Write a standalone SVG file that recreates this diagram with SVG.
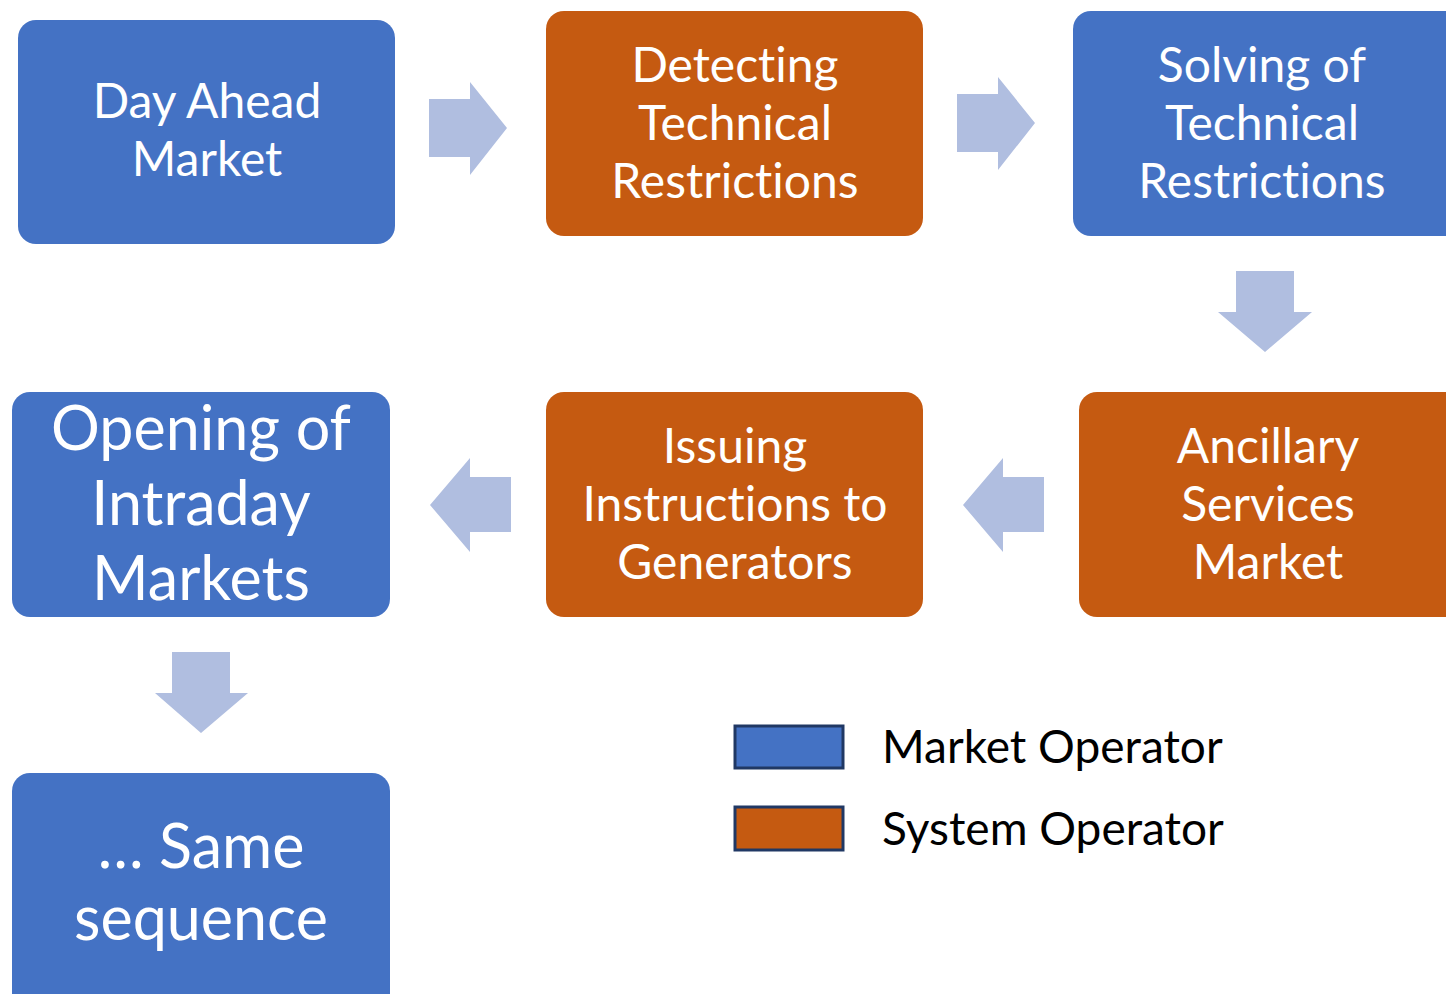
<svg xmlns="http://www.w3.org/2000/svg" width="1446" height="994" viewBox="0 0 1446 994">
<style>
.blue{fill:#4472C4}
.orange{fill:#C55A11}
.arr{fill:#B0BEE0}
text{font-variant-ligatures:none}
.t{font-family:Lato,"Open Sans",sans-serif;fill:#ffffff;text-anchor:middle}
.s{font-size:48px}
.l{font-size:61px}
.lg{font-family:Lato,"Open Sans",sans-serif;fill:#000000;font-size:46px}
.leg{stroke:#203864;stroke-width:3}
</style>
<rect width="1446" height="994" fill="#ffffff"/>
<g id="n1"><rect class="blue" x="18" y="20" width="377" height="224" rx="18"/>
<text class="t s" x="207" y="118">Day Ahead</text><text class="t s" x="207" y="176">Market</text></g>
<g id="n2"><rect class="orange" x="546" y="11" width="377" height="225" rx="18"/>
<text class="t s" x="735" y="82">Detecting</text><text class="t s" x="735" y="140">Technical</text><text class="t s" x="735" y="198">Restrictions</text></g>
<g id="n3"><rect class="blue" x="1073" y="11" width="390" height="225" rx="18"/>
<text class="t s" x="1262" y="82">Solving of</text><text class="t s" x="1262" y="140">Technical</text><text class="t s" x="1262" y="198">Restrictions</text></g>
<g id="n4"><rect class="orange" x="1079" y="392" width="390" height="225" rx="18"/>
<text class="t s" x="1268" y="463">Ancillary</text><text class="t s" x="1268" y="521">Services</text><text class="t s" x="1268" y="579">Market</text></g>
<g id="n5"><rect class="orange" x="546" y="392" width="377" height="225" rx="18"/>
<text class="t s" x="735" y="463">Issuing</text><text class="t s" x="735" y="521">Instructions to</text><text class="t s" x="735" y="579">Generators</text></g>
<g id="n6"><rect class="blue" x="12" y="392" width="378" height="225" rx="18"/>
<text class="t l" x="201" y="450">Opening of</text><text class="t l" x="201" y="525">Intraday</text><text class="t l" x="201" y="600">Markets</text></g>
<g id="n7"><rect class="blue" x="12" y="773" width="378" height="240" rx="18"/>
<text class="t l" x="201" y="868">… Same</text><text class="t l" x="201" y="940">sequence</text></g>
<g id="connectors">
<polygon class="arr" points="429,99 470,99 470,82 507,128 470,175 470,157 429,157"/>
<polygon class="arr" points="957,94 998,94 998,77 1035,123 998,170 998,152 957,152"/>
<polygon class="arr" points="1236,271 1294,271 1294,312 1312,312 1265,352 1218,312 1236,312"/>
<polygon class="arr" points="1044,477 1003,477 1003,458 963,505 1003,552 1003,532 1044,532"/>
<polygon class="arr" points="511,477 470,477 470,458 430,505 470,552 470,532 511,532"/>
<polygon class="arr" points="172,652 230,652 230,693 248,693 201,733 155,693 172,693"/>
</g>
<g id="legend">
<rect class="blue leg" x="735" y="726" width="108" height="42"/>
<rect class="orange leg" x="735" y="807" width="108" height="43"/>
<text class="lg" x="882" y="763">Market Operator</text>
<text class="lg" x="882" y="845">System Operator</text>
</g>
</svg>
